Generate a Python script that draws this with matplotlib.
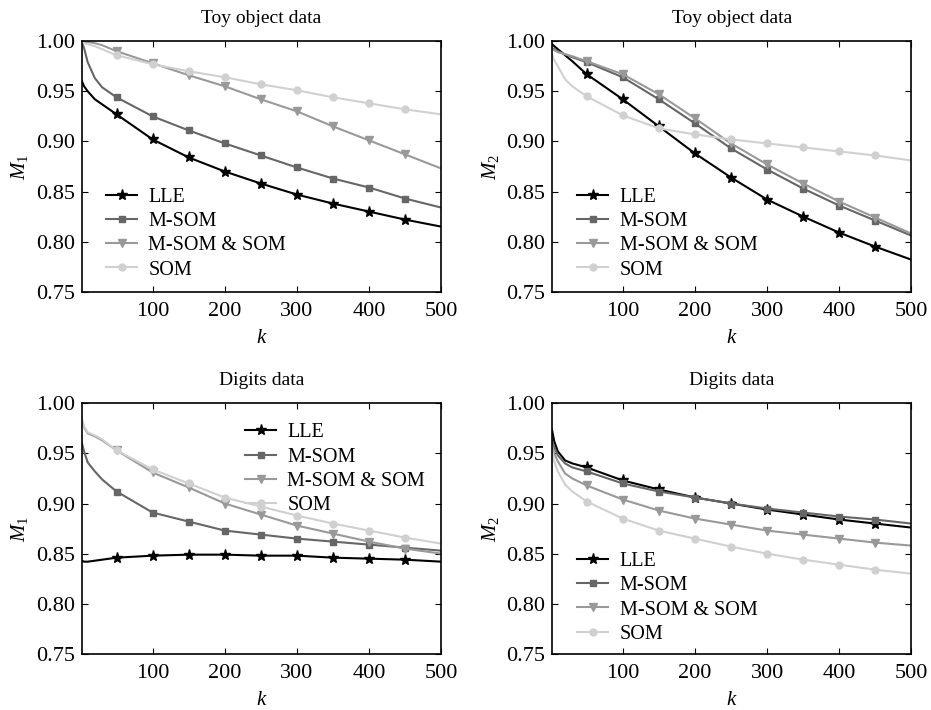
import numpy as np
import matplotlib.pyplot as plt

plt.rcParams['font.family'] = ['Liberation Serif', 'DejaVu Serif']
plt.rcParams['mathtext.fontset'] = 'custom'
plt.rcParams['mathtext.it'] = 'Liberation Serif:italic'
plt.rcParams['mathtext.rm'] = 'Liberation Serif'

k = [2, 5, 10, 20, 30, 50, 100, 150, 200, 250, 300, 350, 400, 450, 500]
methods = ['LLE', 'M-SOM', 'M-SOM & SOM', 'SOM']

# Toy object data, M1
toy_m1 = {
    'LLE':         [0.960, 0.955, 0.950, 0.942, 0.937, 0.927, 0.902, 0.884, 0.870, 0.858, 0.847, 0.838, 0.830, 0.822, 0.815],
    'M-SOM':       [0.999, 0.993, 0.979, 0.963, 0.954, 0.944, 0.925, 0.911, 0.898, 0.886, 0.874, 0.863, 0.854, 0.843, 0.834],
    'M-SOM & SOM': [0.999, 0.999, 0.999, 0.998, 0.996, 0.990, 0.978, 0.966, 0.955, 0.942, 0.930, 0.915, 0.901, 0.887, 0.873],
    'SOM':         [0.998, 0.998, 0.997, 0.995, 0.992, 0.986, 0.977, 0.970, 0.964, 0.957, 0.951, 0.944, 0.938, 0.932, 0.927],
}
# Toy object data, M2
toy_m2 = {
    'LLE':         [0.997, 0.995, 0.992, 0.986, 0.980, 0.967, 0.942, 0.915, 0.888, 0.864, 0.842, 0.825, 0.809, 0.795, 0.782],
    'M-SOM':       [0.993, 0.992, 0.990, 0.987, 0.984, 0.979, 0.964, 0.942, 0.918, 0.893, 0.872, 0.853, 0.836, 0.821, 0.806],
    'M-SOM & SOM': [0.992, 0.991, 0.989, 0.987, 0.985, 0.980, 0.967, 0.947, 0.923, 0.898, 0.877, 0.858, 0.840, 0.824, 0.808],
    'SOM':         [0.987, 0.981, 0.975, 0.962, 0.955, 0.945, 0.926, 0.913, 0.907, 0.902, 0.898, 0.894, 0.890, 0.886, 0.881],
}
# Digits data, M1
dig_m1 = {
    'LLE':         [0.843, 0.842, 0.842, 0.843, 0.844, 0.846, 0.848, 0.849, 0.849, 0.848, 0.848, 0.846, 0.845, 0.844, 0.842],
    'M-SOM':       [0.960, 0.952, 0.941, 0.932, 0.924, 0.912, 0.891, 0.882, 0.873, 0.869, 0.865, 0.862, 0.859, 0.856, 0.853],
    'M-SOM & SOM': [0.983, 0.976, 0.970, 0.967, 0.963, 0.953, 0.931, 0.916, 0.900, 0.889, 0.878, 0.870, 0.862, 0.855, 0.850],
    'SOM':         [0.985, 0.977, 0.971, 0.968, 0.964, 0.953, 0.934, 0.920, 0.906, 0.897, 0.888, 0.880, 0.873, 0.866, 0.860],
}
# Digits data, M2
dig_m2 = {
    'LLE':         [0.973, 0.962, 0.952, 0.943, 0.940, 0.936, 0.923, 0.914, 0.906, 0.900, 0.894, 0.889, 0.884, 0.880, 0.876],
    'M-SOM':       [0.963, 0.956, 0.948, 0.940, 0.936, 0.932, 0.920, 0.912, 0.906, 0.900, 0.895, 0.891, 0.887, 0.884, 0.880],
    'M-SOM & SOM': [0.958, 0.950, 0.942, 0.930, 0.925, 0.918, 0.904, 0.893, 0.885, 0.879, 0.873, 0.869, 0.865, 0.861, 0.858],
    'SOM':         [0.953, 0.942, 0.932, 0.919, 0.912, 0.902, 0.885, 0.873, 0.865, 0.857, 0.850, 0.844, 0.839, 0.834, 0.830],
}

colors = {'LLE': 'black', 'M-SOM': '#666666', 'M-SOM & SOM': '#999999', 'SOM': '#d0d0d0'}
markers = {'LLE': '*', 'M-SOM': 's', 'M-SOM & SOM': 'v', 'SOM': 'o'}
msizes = {'LLE': 8, 'M-SOM': 5, 'M-SOM & SOM': 6, 'SOM': 5}

panels = [
    (toy_m1, 'Toy object data', '$M_1$', [0.088, 0.589, 0.386, 0.353], (0.067, 0.414)),
    (toy_m2, 'Toy object data', '$M_2$', [0.593, 0.589, 0.386, 0.353], (0.070, 0.414)),
    (dig_m1, 'Digits data', '$M_1$', [0.088, 0.079, 0.386, 0.353], (0.454, 0.920)),
    (dig_m2, 'Digits data', '$M_2$', [0.593, 0.079, 0.386, 0.353], (0.070, 0.406)),
]

fig = plt.figure(figsize=(9.31, 7.10), dpi=100)
for data, title, ylab, pos, anchor in panels:
    ax = fig.add_axes(pos)
    for m in methods:
        ax.plot(k, data[m], color=colors[m], lw=1.5, marker=markers[m],
                markersize=msizes[m], markevery=list(range(5, 14)), label=m)
    ax.set_xlim(2, 500)
    ax.set_ylim(0.75, 1.0)
    ax.set_xticks([100, 200, 300, 400, 500])
    ax.set_yticks(np.arange(0.75, 1.001, 0.05))
    ax.set_yticklabels([f'{v:.2f}' for v in np.arange(0.75, 1.001, 0.05)])
    ax.tick_params(direction='in', top=True, right=True, length=4, labelsize=16)
    ax.tick_params(axis='x', pad=7)
    ax.tick_params(axis='y', pad=5)
    ax.set_title(title, fontsize=14, pad=13)
    ax.set_xlabel('$k$', fontsize=15, labelpad=6)
    ax.set_ylabel(ylab, fontsize=15, labelpad=4)
    for s in ax.spines.values():
        s.set_linewidth(1.2)
    ax.legend(loc='upper left', bbox_to_anchor=anchor, frameon=False, fontsize=14.5,
              handlelength=1.55, labelspacing=0.25, handletextpad=0.55,
              borderpad=0, borderaxespad=0)

fig.savefig('out.png', dpi=100)
